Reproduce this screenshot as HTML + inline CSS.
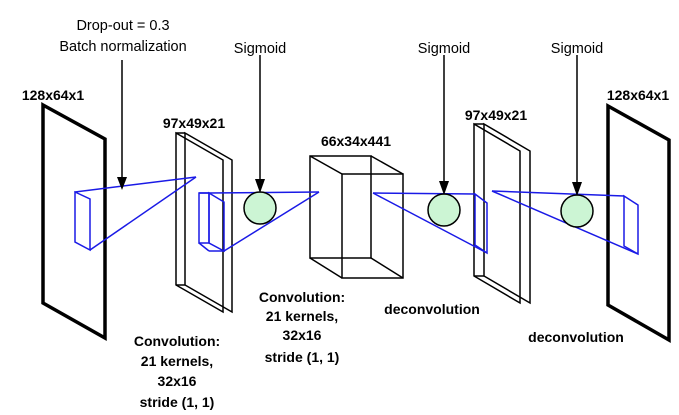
<!DOCTYPE html>
<html><head><meta charset="utf-8"><style>
html,body{margin:0;padding:0;background:#fff;}
svg{display:block;font-family:"Liberation Sans",sans-serif;}
.b{font-weight:bold;font-size:14px;}
.r{font-size:14.5px;}
</style></head><body>
<svg width="679" height="415" viewBox="0 0 679 415">
<g fill="none" stroke="#000">
<polygon points="43,105 105,139 105,338 43,303" stroke-width="3.5"/>
<g stroke-width="1.5">
<polygon points="176,133 223,160 223,312 176,285"/>
<polygon points="185,133 232,160 232,312 185,285"/>
<line x1="176" y1="133" x2="185" y2="133"/><line x1="176" y1="285" x2="185" y2="285"/>
</g>
<g stroke-width="1.5">
<rect x="310" y="156" width="61" height="102"/>
<rect x="342" y="174" width="61" height="104"/>
<line x1="310" y1="156" x2="342" y2="174"/><line x1="371" y1="156" x2="403" y2="174"/>
<line x1="310" y1="258" x2="342" y2="278"/><line x1="371" y1="258" x2="403" y2="278"/>
</g>
<g stroke-width="1.5">
<polygon points="474,124 520,151 520,303 474,276"/>
<polygon points="484,124 530,151 530,303 484,276"/>
<line x1="474" y1="124" x2="484" y2="124"/><line x1="474" y1="276" x2="484" y2="276"/>
</g>
<polygon points="608,106 669,140 669,340 608,305" stroke-width="3.5"/>
</g>
<g fill="none" stroke="#1a1ae6" stroke-width="1.5">
<g>
<polygon points="75,192 90,199 90,250 75,242"/>
<line x1="75" y1="192" x2="196" y2="177"/><line x1="90" y1="250" x2="196" y2="177"/>
</g>
<g>
<rect x="199" y="193" width="10" height="50"/>
<polygon points="209,193 224,202 224,251 209,243"/>
<line x1="199" y1="193" x2="209" y2="193"/><line x1="199" y1="243" x2="209" y2="251"/><line x1="209" y1="251" x2="224" y2="251"/>
<line x1="209" y1="193" x2="319" y2="192"/><line x1="224" y1="251" x2="319" y2="192"/>
</g>
<g>
<line x1="373" y1="193" x2="475" y2="194"/><line x1="373" y1="193" x2="487" y2="253"/>
<polygon points="475,194 487,203 487,253 475,245"/>
</g>
<g>
<line x1="492" y1="191" x2="624" y2="196"/><line x1="492" y1="191" x2="638" y2="254"/>
<polygon points="624,196 638,205 638,254 624,246"/>
</g>
</g>
<g stroke="#000" stroke-width="1.5">
<line x1="122" y1="60" x2="122" y2="180"/>
<line x1="260" y1="55" x2="260" y2="182"/>
<line x1="444" y1="55" x2="444" y2="184"/>
<line x1="577" y1="55" x2="577" y2="185"/>
</g>
<g fill="#ccf5d4" stroke="#000" stroke-width="1.5">
<circle cx="260" cy="208" r="16"/>
<circle cx="444" cy="210" r="16"/>
<circle cx="577" cy="211" r="16"/>
</g>
<g fill="#000">
<polygon points="117,177 127,177 122,190"/>
<polygon points="255,179 265,179 260,193"/>
<polygon points="439,181 449,181 444,195"/>
<polygon points="572,182 582,182 577,196"/>
</g>
<g text-anchor="middle" fill="#000">
<text class="r" x="123" y="30">Drop-out = 0.3</text>
<text class="r" x="123" y="51">Batch normalization</text>
<text class="r" x="260" y="53">Sigmoid</text>
<text class="r" x="444" y="53">Sigmoid</text>
<text class="r" x="577" y="53">Sigmoid</text>
<text class="b" x="53" y="100">128x64x1</text>
<text class="b" x="194" y="128">97x49x21</text>
<text class="b" x="356" y="146">66x34x441</text>
<text class="b" x="496" y="120">97x49x21</text>
<text class="b" x="638" y="100">128x64x1</text>
<g>
<text class="b" x="177" y="346">Convolution:</text>
<text class="b" x="177" y="366">21 kernels,</text>
<text class="b" x="177" y="386">32x16</text>
<text class="b" x="177" y="407">stride (1, 1)</text>
</g>
<g>
<text class="b" x="302" y="302">Convolution:</text>
<text class="b" x="302" y="321">21 kernels,</text>
<text class="b" x="302" y="340">32x16</text>
<text class="b" x="302" y="362">stride (1, 1)</text>
</g>
<text class="b" x="432" y="314">deconvolution</text>
<text class="b" x="576" y="342">deconvolution</text>
</g>
</svg>
</body></html>
